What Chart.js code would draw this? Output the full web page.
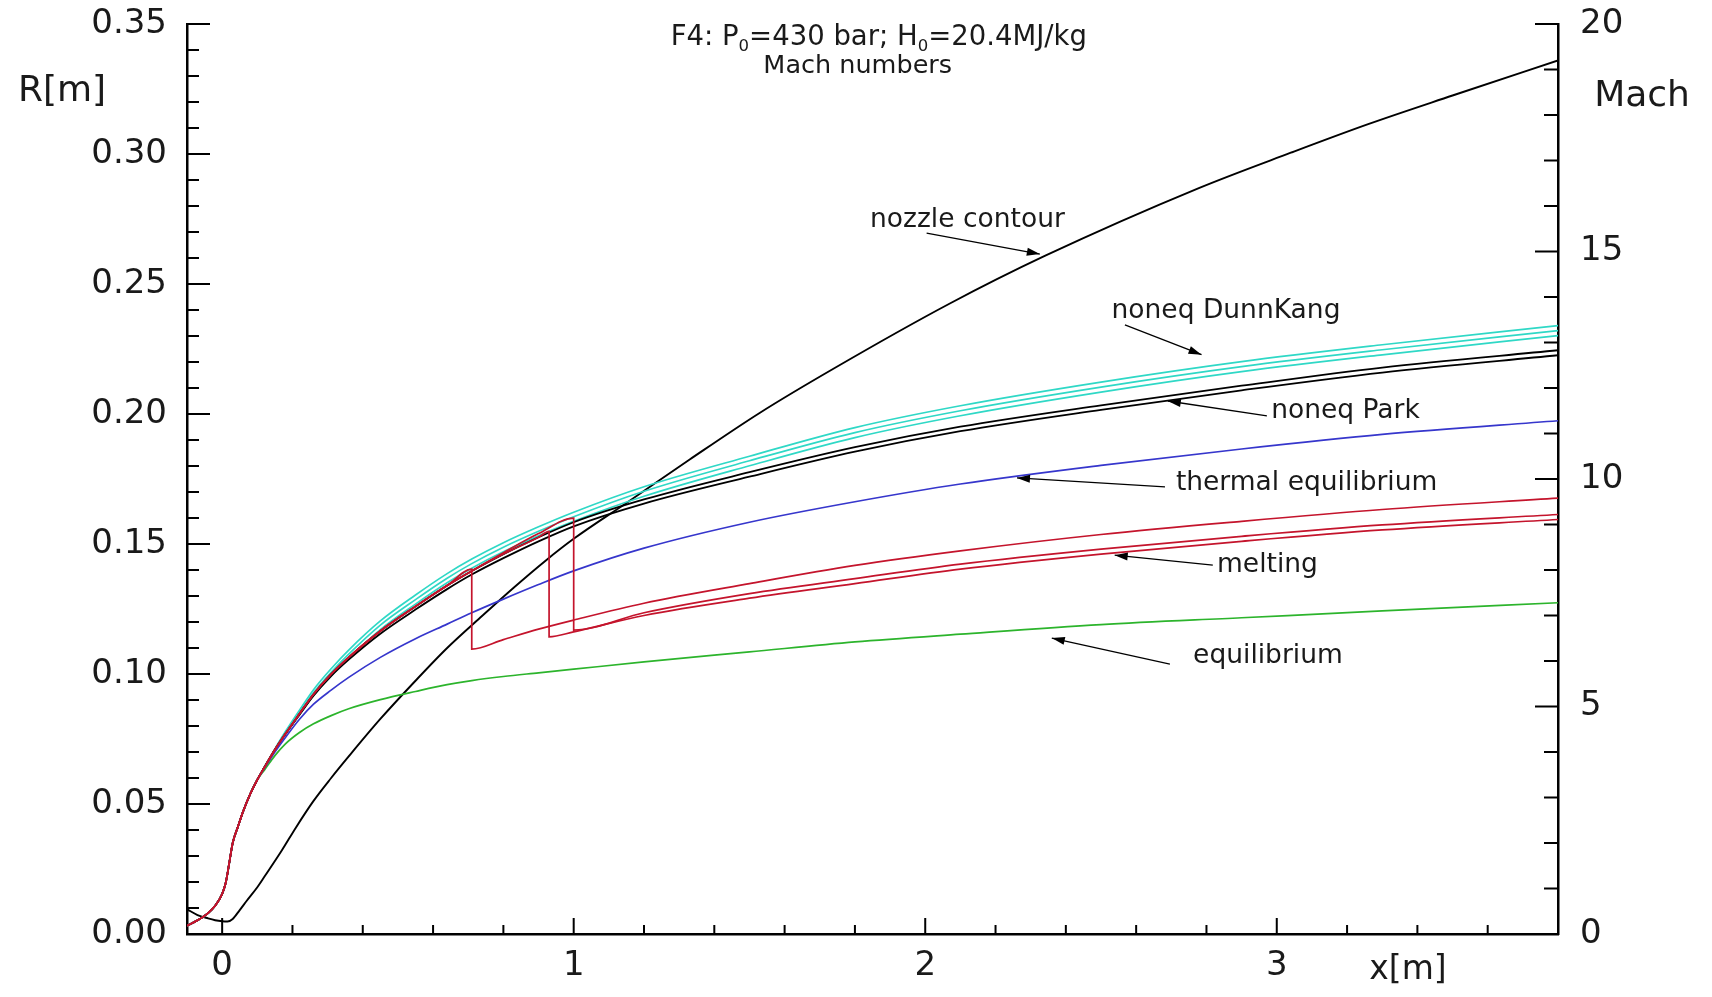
<!DOCTYPE html>
<html lang="en">
<head>
<meta charset="UTF-8">
<title>F4 nozzle - Mach numbers</title>
<script src="https://cdn.jsdelivr.net/npm/chart.js@4.4.1/dist/chart.umd.min.js"></script>
<style>
  html, body { margin: 0; padding: 0; background: #fff; }
  #wrap { width: 1712px; height: 997px; }
</style>
</head>
<body>
<div id="wrap"><canvas id="machChart" width="1712" height="997"></canvas></div>
<script>
// ---- data ----
// axis ticks
const xMajor = [0, 1, 2, 3];
const xMinor = [0.2, 0.4, 0.6, 0.8, 1.2, 1.4, 1.6, 1.8, 2.2, 2.4, 2.6, 2.8, 3.2, 3.4, 3.6];
const rMajor = [0, 0.05, 0.10, 0.15, 0.20, 0.25, 0.30, 0.35];
const machMajor = [0, 5, 10, 15, 20];

// inlet / throat part shared by every Mach curve
const xStart = [-0.1, -0.07, -0.04, -0.02, 0, 0.01, 0.02, 0.03, 0.045, 0.06, 0.08, 0.1];
const machStart = [0.18, 0.30, 0.46, 0.62, 0.88, 1.12, 1.55, 2.0, 2.36, 2.7, 3.08, 3.39];

// common x grid for the smooth Mach curves
const xTail = [0.12, 0.15, 0.18, 0.22, 0.26, 0.31, 0.36, 0.45, 0.55, 0.64, 0.71, 0.8, 0.9, 1.0, 1.2, 1.5, 1.8, 2.1, 2.5, 2.9, 3.3, 3.8];

const dunnKang1 = [3.67, 4.07, 4.45, 4.92, 5.37, 5.83, 6.24, 6.88, 7.45, 7.92, 8.24, 8.6, 8.95, 9.27, 9.83, 10.5, 11.13, 11.61, 12.13, 12.58, 12.95, 13.37];
const dunnKang2 = [3.66, 4.05, 4.42, 4.87, 5.3, 5.75, 6.15, 6.79, 7.35, 7.82, 8.14, 8.5, 8.85, 9.17, 9.73, 10.4, 11.02, 11.5, 12.02, 12.47, 12.84, 13.26];
const dunnKang3 = [3.66, 4.04, 4.4, 4.82, 5.24, 5.67, 6.06, 6.69, 7.25, 7.72, 8.04, 8.4, 8.75, 9.07, 9.62, 10.29, 10.91, 11.39, 11.91, 12.36, 12.73, 13.15];
const park1 = [3.66, 4.05, 4.4, 4.84, 5.27, 5.71, 6.08, 6.66, 7.2, 7.66, 7.98, 8.35, 8.72, 9.05, 9.55, 10.15, 10.7, 11.15, 11.62, 12.05, 12.45, 12.83];
const park2 = [3.66, 4.05, 4.39, 4.82, 5.24, 5.67, 6.03, 6.6, 7.13, 7.58, 7.9, 8.26, 8.63, 8.96, 9.46, 10.05, 10.6, 11.05, 11.52, 11.95, 12.34, 12.72];
const thermalEq = [3.64, 4.0, 4.32, 4.72, 5.05, 5.36, 5.64, 6.08, 6.49, 6.81, 7.06, 7.36, 7.68, 7.98, 8.48, 9.05, 9.5, 9.89, 10.3, 10.66, 10.98, 11.28];
const equilibrium = [3.6, 3.92, 4.18, 4.43, 4.62, 4.8, 4.95, 5.15, 5.33, 5.48, 5.57, 5.66, 5.74, 5.82, 5.98, 6.2, 6.42, 6.59, 6.8, 6.95, 7.1, 7.28];

// melting: three runs that drop when the model switches
const xMeltPre = [0.12, 0.15, 0.18, 0.22, 0.26, 0.31, 0.36, 0.45, 0.55, 0.64];
const machMeltPre = [3.66, 4.05, 4.4, 4.84, 5.27, 5.71, 6.08, 6.66, 7.2, 7.66];
const xMeltA = [0.71, 0.71, 0.8, 0.9, 1.0, 1.2, 1.5, 1.8, 2.1, 2.5, 2.9, 3.3, 3.8];
const machMeltA = [8.02, 6.26, 6.47, 6.7, 6.9, 7.27, 7.7, 8.1, 8.42, 8.78, 9.07, 9.33, 9.58];
const xMeltB = [0.71, 0.8, 0.9, 0.93, 0.93, 1.0, 1.2, 1.5, 1.8, 2.1, 2.5, 2.9, 3.3, 3.8];
const machMeltB = [7.98, 8.35, 8.72, 8.85, 6.53, 6.64, 7.0, 7.38, 7.7, 8.02, 8.35, 8.63, 8.88, 9.11];
const xMeltC = [0.71, 0.8, 0.9, 1.0, 1.0, 1.2, 1.5, 1.8, 2.1, 2.5, 2.9, 3.3, 3.8];
const machMeltC = [7.98, 8.38, 8.8, 9.14, 6.68, 7.06, 7.48, 7.81, 8.13, 8.46, 8.74, 8.99, 9.22];

// nozzle radius R[m] (left axis)
const xNozzle = [-0.1, -0.07, -0.04, -0.02, 0, 0.015, 0.03, 0.05, 0.07, 0.1, 0.12, 0.17, 0.21, 0.26, 0.31, 0.36, 0.45, 0.55, 0.64, 0.74, 0.83, 0.92, 1.0, 1.15, 1.33, 1.53, 1.74, 2.07, 2.34, 2.78, 3.04, 3.26, 3.5, 3.8];
const rNozzle = [0.0095, 0.0073, 0.006, 0.0053, 0.0049, 0.0048, 0.0058, 0.0092, 0.0128, 0.018, 0.022, 0.0322, 0.041, 0.0512, 0.06, 0.0683, 0.0827, 0.0974, 0.11, 0.1224, 0.1333, 0.1436, 0.152, 0.1658, 0.1825, 0.2005, 0.2175, 0.2425, 0.2608, 0.287, 0.3005, 0.3115, 0.3225, 0.336];

const titleLine1 = [['F4: P', false], ['0', true], ['=430 bar; H', false], ['0', true], ['=20.4MJ/kg', false]];
const titleLine2 = 'Mach numbers';
const curveLabels = ['nozzle contour', 'noneq DunnKang', 'noneq Park', 'thermal equilibrium', 'melting', 'equilibrium'];

// ---- helpers ----
function pts(xs, ys) {
    return xs.map((x, i) => ({ x: x, y: ys[i] }));
}
function machLine(label, xs, ys, color, width) {
    return {
        label: label, data: pts(xs, ys), yAxisID: 'yM',
        borderColor: color, borderWidth: width || 1.7,
        cubicInterpolationMode: 'monotone', pointRadius: 0, fill: false
    };
}

const RED = '#c4142c', CYAN = '#2fd8c6', BLUE = '#3636cc', GREEN = '#2cb42c';
const FONT = '"DejaVu Sans", "Liberation Sans", sans-serif';

const datasets = [
    machLine('melting 1', xStart.concat(xMeltPre, xMeltA), machStart.concat(machMeltPre, machMeltA), RED),
    machLine('melting 2', xStart.concat(xMeltPre, xMeltB), machStart.concat(machMeltPre, machMeltB), RED),
    machLine('melting 3', xStart.concat(xMeltPre, xMeltC), machStart.concat(machMeltPre, machMeltC), RED),
    machLine('thermal equilibrium', xStart.concat(xTail), machStart.concat(thermalEq), BLUE),
    machLine('equilibrium', xStart.concat(xTail), machStart.concat(equilibrium), GREEN),
    machLine('noneq Park 1', xStart.concat(xTail), machStart.concat(park1), '#000', 1.8),
    machLine('noneq Park 2', xStart.concat(xTail), machStart.concat(park2), '#000', 1.8),
    machLine('noneq DunnKang 1', xStart.concat(xTail), machStart.concat(dunnKang1), CYAN),
    machLine('noneq DunnKang 2', xStart.concat(xTail), machStart.concat(dunnKang2), CYAN),
    machLine('noneq DunnKang 3', xStart.concat(xTail), machStart.concat(dunnKang3), CYAN),
    {
        label: 'nozzle contour', data: pts(xNozzle, rNozzle), yAxisID: 'yR',
        borderColor: '#000', borderWidth: 1.9, cubicInterpolationMode: 'monotone',
        pointRadius: 0, fill: false
    }
];

// inward tick marks (major + minor) on all three axes
const inwardTicks = {
    id: 'inwardTicks',
    afterDraw(chart) {
        const { ctx, chartArea: a, scales: { x, yR, yM } } = chart;
        const rMinor = [], machMinor = [];
        for (let i = 1; i < 35; i++) if (i % 5) rMinor.push(i / 100);
        for (let i = 1; i < 20; i++) if (i % 5) machMinor.push(i);
        ctx.save();
        ctx.strokeStyle = '#000';
        ctx.lineWidth = 2;
        ctx.beginPath();
        xMajor.forEach(v => { const p = x.getPixelForValue(v); ctx.moveTo(p, a.bottom); ctx.lineTo(p, a.bottom - 16); });
        xMinor.forEach(v => { const p = x.getPixelForValue(v); ctx.moveTo(p, a.bottom); ctx.lineTo(p, a.bottom - 9); });
        rMajor.forEach(v => { const p = yR.getPixelForValue(v); ctx.moveTo(a.left, p); ctx.lineTo(a.left + 23, p); });
        rMinor.forEach(v => { const p = yR.getPixelForValue(v); ctx.moveTo(a.left, p); ctx.lineTo(a.left + 12, p); });
        machMajor.forEach(v => { const p = yM.getPixelForValue(v); ctx.moveTo(a.right, p); ctx.lineTo(a.right - 23, p); });
        machMinor.forEach(v => { const p = yM.getPixelForValue(v); ctx.moveTo(a.right, p); ctx.lineTo(a.right - 14, p); });
        ctx.stroke();
        ctx.restore();
    }
};

// title, axis names and the arrow labels
const notes = {
    id: 'notes',
    afterDraw(chart) {
        const { ctx, scales: { x, yR } } = chart;
        const px = v => x.getPixelForValue(v), py = v => yR.getPixelForValue(v);
        ctx.save();
        ctx.fillStyle = '#1a1a1a';
        ctx.textBaseline = 'alphabetic';

        // title with subscripts
        const size = 27.5;
        let total = 0;
        titleLine1.forEach(r => {
            ctx.font = (r[1] ? size * 0.6 : size) + 'px ' + FONT;
            total += ctx.measureText(r[0]).width;
        });
        let cx = px(1.868) - total / 2;
        const base1 = py(0.3421);
        titleLine1.forEach(r => {
            ctx.font = (r[1] ? size * 0.6 : size) + 'px ' + FONT;
            ctx.fillText(r[0], cx, r[1] ? base1 + 6 : base1);
            cx += ctx.measureText(r[0]).width;
        });
        ctx.font = '25.5px ' + FONT;
        ctx.textAlign = 'center';
        ctx.fillText(titleLine2, px(1.808), py(0.331));

        // axis names
        ctx.textBaseline = 'middle';
        ctx.font = '36px ' + FONT;
        ctx.fillText('R[m]', 62, py(0.324));
        ctx.fillText('Mach', 1642, py(0.322));
        ctx.font = '33px ' + FONT;
        ctx.fillText('x[m]', 1408, 970);

        // curve labels with arrows: [text x, text R, arrow from x,R, arrow to x,R]
        const spots = [
            [1.843, 0.2720, 2.004, 0.2696, 2.326, 0.2615],
            [2.530, 0.2370, 2.568, 0.2343, 2.786, 0.2228],
            [2.984, 0.1985, 2.972, 0.1993, 2.690, 0.2050],
            [2.713, 0.1708, 2.682, 0.1720, 2.261, 0.1754],
            [2.830, 0.1392, 2.818, 0.1419, 2.539, 0.1457],
            [2.762, 0.1042, 2.696, 0.1038, 2.360, 0.1138]
        ];
        ctx.font = '26.5px ' + FONT;
        ctx.textAlign = 'left';
        ctx.textBaseline = 'alphabetic';
        ctx.strokeStyle = '#000';
        ctx.lineWidth = 1.3;
        spots.forEach((s, i) => {
            ctx.fillStyle = '#1a1a1a';
            ctx.fillText(curveLabels[i], px(s[0]), py(s[1]));
            const x1 = px(s[2]), y1 = py(s[3]), x2 = px(s[4]), y2 = py(s[5]);
            ctx.beginPath();
            ctx.moveTo(x1, y1);
            ctx.lineTo(x2, y2);
            ctx.stroke();
            const ang = Math.atan2(y2 - y1, x2 - x1);
            ctx.fillStyle = '#000';
            ctx.beginPath();
            ctx.moveTo(x2, y2);
            ctx.lineTo(x2 - 13 * Math.cos(ang) + 4 * Math.sin(ang), y2 - 13 * Math.sin(ang) - 4 * Math.cos(ang));
            ctx.lineTo(x2 - 13 * Math.cos(ang) - 4 * Math.sin(ang), y2 - 13 * Math.sin(ang) + 4 * Math.cos(ang));
            ctx.closePath();
            ctx.fill();
        });
        ctx.restore();
    }
};

// keep the tick-label overhang from pushing the plot area down
function fixVertical(width) {
    return s => { s.width = width; s.paddingTop = 10; s.paddingBottom = 10; };
}

const tickFont = { family: FONT, size: 34 };
const ctx = document.getElementById('machChart').getContext('2d');
new Chart(ctx, {
    type: 'line',
    data: { datasets: datasets },
    options: {
        responsive: false,
        animation: false,
        devicePixelRatio: 1,
        layout: { padding: { top: 24, left: 0, right: 0, bottom: 0 } },
        plugins: { legend: { display: false }, tooltip: { enabled: false } },
        scales: {
            x: {
                type: 'linear', min: -0.1, max: 3.8,
                afterBuildTicks: s => { s.ticks = xMajor.map(v => ({ value: v })); },
                afterFit: s => { s.height = 63; },
                grid: { display: false, drawTicks: false },
                border: { display: true, color: '#000', width: 2.5 },
                ticks: { font: tickFont, color: '#1a1a1a', padding: 12, maxRotation: 0 }
            },
            yR: {
                type: 'linear', position: 'left', min: 0, max: 0.35,
                afterBuildTicks: s => { s.ticks = rMajor.map(v => ({ value: v })); },
                afterFit: fixVertical(187),
                grid: { display: false, drawTicks: false },
                border: { display: true, color: '#000', width: 2.5 },
                ticks: { font: tickFont, color: '#1a1a1a', padding: 20, callback: v => v.toFixed(2) }
            },
            yM: {
                type: 'linear', position: 'right', min: 0, max: 20,
                afterBuildTicks: s => { s.ticks = machMajor.map(v => ({ value: v })); },
                afterFit: fixVertical(154),
                grid: { display: false, drawTicks: false },
                border: { display: true, color: '#000', width: 2.5 },
                ticks: { font: tickFont, color: '#1a1a1a', padding: 22 }
            }
        }
    },
    plugins: [inwardTicks, notes]
});
</script>
</body>
</html>
